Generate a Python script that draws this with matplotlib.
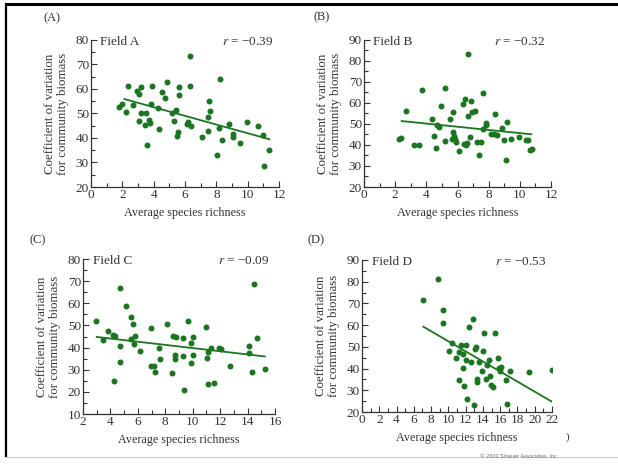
import numpy as np
import matplotlib as mpl
import matplotlib.pyplot as plt
from matplotlib.lines import Line2D
from matplotlib.ticker import MultipleLocator

mpl.rcParams["font.family"] = ["Liberation Serif", "DejaVu Serif"]
mpl.rcParams["mathtext.fontset"] = "stix"
mpl.rcParams["axes.spines.right"] = False
mpl.rcParams["axes.spines.top"] = False

# Field A
xa = [1.81, 1.98, 2.21, 2.34, 2.66, 2.96, 3.04, 3.04, 3.21, 3.21, 3.47, 3.51, 3.55,
      3.70, 3.77, 3.89, 3.85, 4.26, 4.34, 4.55, 4.72, 4.87, 5.15, 5.30, 5.43, 5.47,
      5.57, 5.60, 5.62, 6.13, 6.21, 6.34, 6.34, 6.40, 7.11, 7.45, 7.47, 7.51, 7.62,
      8.02, 8.17, 8.23, 8.34, 8.79, 9.04, 9.09, 9.51, 9.96, 10.68, 11.0, 11.04, 11.34]
ya = [52.5, 53.7, 50.7, 61.4, 53.3, 59, 58, 47, 61, 50, 45.3, 50.3, 37.1,
      47.3, 46.3, 61.4, 53.9, 52.4, 43.7, 58.6, 56.5, 62.9, 50.1, 47, 51.4, 41,
      42.6, 61, 57.6, 45.7, 46.5, 73.5, 61.4, 45, 40.3, 42.9, 48.7, 55.1, 51,
      32.9, 44.2, 64.2, 39.2, 45.6, 41.6, 40.3, 38.1, 46.7, 44.9, 41.2, 28.6, 35]
fit_a = ([2.13, 11.38], [55.9, 39.5])

# Field B
xb = [2.22, 2.40, 2.70, 3.23, 3.51, 3.72, 4.39, 4.51, 4.62, 4.71, 4.83, 4.96, 5.18,
      5.18, 5.50, 5.67, 5.72, 5.73, 5.80, 5.82, 5.88, 6.10, 6.35, 6.39, 6.45, 6.55,
      6.59, 6.65, 6.65, 6.82, 6.84, 6.95, 7.12, 7.23, 7.38, 7.53, 7.62, 7.64, 7.83,
      7.85, 8.13, 8.32, 8.41, 8.56, 8.86, 8.98, 9.09, 9.18, 9.41, 9.97, 10.42, 10.52,
      10.65, 10.78]
yb = [43, 43.3, 56.2, 40.2, 40, 66, 52.2, 44.3, 38.7, 49.4, 48.6, 58.6, 42.1,
      67.3, 52.2, 43, 55.9, 46.3, 44.3, 42.7, 41.6, 37.3, 59.7, 40.5, 62.1, 39.8,
      41, 53.8, 83.2, 43.8, 61.1, 55.6, 56.3, 41.4, 35.4, 41.4, 64.6, 47.8, 50.6,
      49.4, 45.1, 45.1, 54.6, 44.6, 48.3, 42.4, 32.7, 51, 42.7, 43.8, 42.2, 42.4,
      37.6, 37.9]
fit_b = ([2.42, 10.74], [51.4, 45.1])

# Field C
xc = [2.95, 3.46, 3.85, 4.21, 4.33, 4.26, 4.70, 4.70, 4.72, 5.14, 5.48, 5.50, 5.62,
      5.72, 5.79, 6.18, 6.93, 6.93, 7.18, 7.23, 7.57, 7.61, 8.15, 8.49, 8.59, 8.68,
      8.71, 8.78, 9.27, 9.32, 9.34, 9.66, 9.85, 9.90, 10.0, 10.0, 10.97, 11.02, 11.09,
      11.14, 11.33, 11.55, 11.94, 12.06, 12.72, 14.13, 14.13, 14.35, 14.45, 14.71, 15.25]
yc = [51.9, 43.3, 47.4, 45.9, 45.4, 24.8, 66.7, 40.6, 33.4, 58.7, 53.7, 43.7, 50.7,
      41.6, 45.4, 38.6, 48.7, 31.5, 31.5, 29.1, 40, 34.8, 50.8, 28.6, 45.2, 36.8,
      34.7, 44.9, 36.2, 44.2, 21, 51.9, 42.1, 33.1, 36.8, 44.8, 49.5, 35.3, 38,
      23.5, 39.8, 23.8, 39.8, 39.2, 31.9, 40.9, 37.4, 28.9, 68.5, 44.2, 30.4]
fit_c = ([3.0, 15.25], [44.8, 36.0])

# Field D
xd = [7.03, 8.76, 9.34, 9.34, 10.04, 10.46, 10.93, 11.20, 11.24, 11.43, 11.70, 11.74,
      11.81, 12.0, 12.0, 12.16, 12.36, 12.63, 12.90, 12.97, 13.05, 13.17, 13.28, 13.32,
      13.51, 13.90, 13.98, 14.09, 14.40, 14.48, 14.71, 14.83, 14.94, 15.14, 15.41,
      15.75, 15.87, 15.98, 16.06, 16.64, 16.83, 17.18, 19.3, 22.05]
yd = [71.5, 81.4, 66.9, 60.8, 48, 51.6, 45, 34.6, 47.6, 51, 46.7, 40.3,
      32.2, 51, 44.1, 26.1, 59, 42.9, 62.6, 23.2, 49, 49.9, 35.4, 33.9,
      43.1, 38.8, 48, 56.5, 35, 41.7, 44.1, 36.5, 32.4, 31.3, 56.4,
      44.9, 40.3, 38.8, 40.8, 34.6, 23.9, 38.8, 38.2, 39.4]
fit_d = ([7.1, 22.05], [59.3, 24.6])

green = "#1c7520"
txt = "#333333"

panels = [
    # rect, x data, y data, fit, xlim, ylim, field, r, tag
    ([91/618, 1-187/465, 188/618, 147/465], xa, ya, fit_a, (0, 12), (20, 80), "Field A", "\u22120.39", "(A)"),
    ([364/618, 1-187/465, 187/618, 147/465], xb, yb, fit_b, (0, 12), (20, 90), "Field B", "\u22120.32", "(B)"),
    ([83/618, 1-414/465, 192/618, 155/465], xc, yc, fit_c, (2, 16), (10, 80), "Field C", "\u22120.09", "(C)"),
    ([362/618, 1-412/465, 190/618, 152/465], xd, yd, fit_d, (0, 22), (20, 90), "Field D", "\u22120.53", "(D)"),
]
tag_pos = [(43, 18), (314, 17), (29, 240), (308, 240)]

fig = plt.figure(figsize=(6.18, 4.65), dpi=100)
for (rect, x, y, fit, xl, yl, field, r, tag), tp in zip(panels, tag_pos):
    ax = fig.add_axes(rect)
    ax.plot(x, y, 'o', color=green, markersize=4.3, markeredgewidth=0)
    ax.plot(fit[0], fit[1], '-', color=green, linewidth=1.3)
    ax.set_xlim(*xl)
    ax.set_ylim(*yl)
    ax.xaxis.set_major_locator(MultipleLocator(2))
    ax.xaxis.set_minor_locator(MultipleLocator(1))
    ax.yaxis.set_major_locator(MultipleLocator(10))
    ax.yaxis.set_minor_locator(MultipleLocator(5))
    ax.tick_params(which='both', direction='in', colors=txt, labelsize=9.5, width=0.8, pad=1.5)
    ax.tick_params(which='major', length=4)
    ax.tick_params(which='minor', length=3)
    for s in ('left', 'bottom'):
        ax.spines[s].set_color(txt)
        ax.spines[s].set_linewidth(0.9)
    ax.set_xlabel("Average species richness", fontsize=8.7, color=txt, labelpad=4)
    ax.set_ylabel("Coefficient of variation\nfor community biomass", fontsize=9.3,
                  color=txt, labelpad=5, linespacing=1.05)
    ax.text(0.05, 0.985, field, transform=ax.transAxes, fontsize=9.5, color=txt,
            ha='left', va='center')
    ax.text(0.97, 0.985, "$r$ = " + r, transform=ax.transAxes, fontsize=9.5, color=txt,
            ha='right', va='center')
    fig.text(tp[0]/618, 1 - tp[1]/465, tag, fontsize=9, color=txt, ha='left', va='center')

fig.text(566/618, 1 - 437/465, ")", fontsize=8, color=txt, ha='left', va='center')
fig.text(558/618, 1 - 456/465, "\u00a9 2002 Sinauer Associates, Inc.", fontsize=3.5,
         color="#666666", ha='right', va='center', family="DejaVu Sans")

# frame lines of the original scan
fig.add_artist(Line2D([6/618, 1], [1 - 4/465, 1 - 4/465], color='black', linewidth=2.2))
fig.add_artist(Line2D([6/618, 6/618], [1 - 4/465, 1 - 456/465], color='black', linewidth=1.6))
fig.add_artist(Line2D([6/618, 1], [1 - 457/465, 1 - 457/465], color='#cccccc', linewidth=0.8))

plt.savefig('out.png', dpi=100)
